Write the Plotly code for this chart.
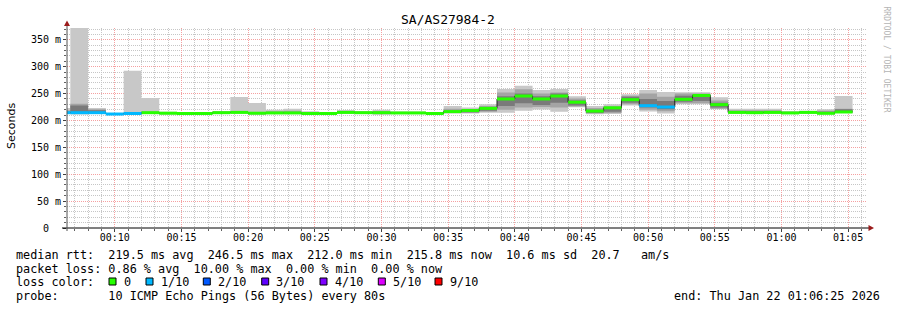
import plotly.graph_objects as go
from datetime import datetime, timedelta

# ---------------- data ----------------
TITLE = "SA/AS27984-2"
FIRST_STEP = datetime(2026, 1, 22, 0, 5, 20)
STEP_SECONDS = 80
X_START = datetime(2026, 1, 22, 0, 6, 25)
X_END = datetime(2026, 1, 22, 1, 6, 25)

median_ms = [214.5, 214.5, 214.5, 212.0, 213.0, 214.5, 213.5, 213.0, 213.0, 214.5,
             215.0, 213.5, 214.0, 214.0, 213.0, 213.0, 215.0, 214.5, 214.5, 214.0,
             214.0, 213.0, 216.5, 218.5, 222.5, 240.0, 245.5, 240.0, 245.5, 234.0,
             217.5, 223.5, 238.7, 227.5, 225.0, 239.4, 246.5, 229.4, 215.0, 214.5,
             215.0, 214.0, 215.0, 213.3, 215.8]
loss_tenths = [1, 1, 1, 1, 1, 0, 0, 0, 0, 0,
               0, 0, 0, 0, 0, 0, 0, 0, 0, 0,
               0, 0, 0, 0, 0, 0, 0, 0, 0, 0,
               0, 0, 0, 1, 1, 0, 0, 0, 0, 0,
               0, 0, 0, 0, 0]
smoke_min = [212.0, 211.0, 212.0, 211.0, 212.0, 212.0, 211.0, 212.0, 212.0, 213.0,
             213.0, 211.5, 212.0, 212.0, 211.5, 211.5, 213.0, 213.0, 211.5, 212.0,
             212.0, 211.5, 213.0, 213.0, 214.5, 214.5, 218.0, 220.6, 216.0, 224.5,
             211.5, 212.0, 228.0, 216.5, 213.0, 230.0, 230.0, 220.7, 213.0, 213.0,
             213.0, 212.5, 213.0, 212.0, 214.0]
smoke_max = [223.0, 372.0, 223.0, 213.5, 292.5, 242.0, 216.0, 215.0, 215.0, 217.5,
             243.5, 232.5, 220.0, 222.0, 217.0, 215.0, 219.5, 217.0, 220.0, 216.5,
             216.5, 214.5, 227.0, 224.0, 230.0, 258.5, 264.7, 256.7, 258.5, 245.0,
             227.0, 230.0, 248.6, 256.7, 253.0, 252.4, 252.4, 243.0, 222.0, 222.0,
             222.0, 217.0, 218.0, 220.7, 245.5]
band2_lo = [213.0, 212.5, 213.0, 211.5, 212.5, 213.0, 212.0, 212.5, 212.5, 213.5,
            214.0, 212.0, 213.0, 213.0, 212.0, 212.0, 213.5, 213.5, 212.0, 213.0,
            213.0, 212.0, 214.0, 214.0, 216.0, 220.0, 224.0, 225.0, 224.0, 226.0,
            213.0, 214.0, 230.0, 220.0, 217.0, 232.0, 232.0, 222.0, 213.5, 213.5,
            213.5, 213.0, 213.5, 212.5, 215.0]
band2_hi = [219.0, 231.0, 221.0, 213.0, 215.0, 216.0, 215.0, 214.0, 214.0, 216.5,
            217.0, 215.0, 217.0, 218.0, 215.0, 214.0, 217.0, 216.0, 217.0, 215.5,
            215.5, 214.0, 222.0, 221.0, 227.0, 252.0, 258.0, 250.0, 252.0, 241.0,
            223.0, 227.0, 246.0, 250.0, 244.0, 250.0, 250.0, 237.0, 219.0, 219.0,
            219.0, 216.0, 217.0, 218.0, 222.0]
band3_lo = [214.0, 215.0, 214.0, 212.0, 212.8, 213.5, 213.0, 212.8, 212.8, 214.0,
            214.5, 211.8, 213.5, 213.5, 212.5, 212.5, 214.0, 214.0, 211.8, 213.5,
            213.5, 212.5, 215.0, 215.5, 218.0, 227.0, 232.0, 229.0, 233.0, 228.0,
            214.0, 216.0, 233.0, 224.0, 221.0, 235.0, 236.0, 224.0, 214.0, 214.0,
            214.0, 213.5, 214.0, 213.0, 216.0]
band3_hi = [216.0, 228.0, 219.0, 212.5, 214.0, 215.0, 214.0, 213.5, 213.5, 215.5,
            216.0, 214.5, 215.0, 215.5, 214.0, 213.5, 216.0, 215.5, 215.5, 214.5,
            214.5, 213.5, 218.0, 220.0, 225.0, 245.0, 250.0, 245.0, 250.0, 237.0,
            220.0, 225.0, 244.0, 240.0, 236.0, 246.0, 249.0, 233.0, 217.0, 217.0,
            217.0, 215.0, 216.0, 216.0, 220.7]

y_tick_values = [0, 50, 100, 150, 200, 250, 300, 350]
y_tick_labels = ["0\u00a0\u00a0", "50 m", "100 m", "150 m", "200 m", "250 m", "300 m", "350 m"]

loss_colors = {0: "#26ff00", 1: "#00b8ff", 2: "#0059ff", 3: "#5e00ff",
               4: "#7e00ff", 5: "#dd00ff", 9: "#ff0000"}
loss_labels = ["0", "1/10", "2/10", "3/10", "4/10", "5/10", "9/10"]
loss_keys = [0, 1, 2, 3, 4, 5, 9]

stats_line1 = "median rtt:  219.5 ms avg  246.5 ms max  212.0 ms min  215.8 ms now  10.6 ms sd  20.7   am/s"
stats_line2 = "packet loss: 0.86 % avg  10.00 % max  0.00 % min  0.00 % now"
probe_line = "probe:       10 ICMP Echo Pings (56 Bytes) every 80s"
end_line = "end: Thu Jan 22 01:06:25 2026"
watermark = "RRDTOOL / TOBI OETIKER"

# ---------------- layout helpers ----------------
W, H = 897, 310
PL, PR, PT, PB = 67, 867, 28, 228
Y_MAX = 372.0


def px(x):
    return (x - PL) / (PR - PL)


def py(y):
    return (PB - y) / (PB - PT)


def nb(s):
    return s.replace(" ", "\u00a0")


MONO = "DejaVu Sans Mono"
n = len(median_ms)
edges = [FIRST_STEP + timedelta(seconds=STEP_SECONDS * i) for i in range(n + 1)]


def stepy(vals):
    return list(vals) + [vals[-1]]


fig = go.Figure()

smoke_bands = [(smoke_min, smoke_max, "#c8c8c8"),
               (band2_lo, band2_hi, "#a4a4a4"),
               (band3_lo, band3_hi, "#7a7a7a")]
for lo, hi, col in smoke_bands:
    fig.add_trace(go.Scatter(x=edges, y=stepy(lo), mode="lines", line=dict(width=0, shape="hv"),
                             hoverinfo="skip", showlegend=False))
    fig.add_trace(go.Scatter(x=edges, y=stepy(hi), mode="lines", line=dict(width=0, shape="hv"),
                             fill="tonexty", fillcolor=col, hoverinfo="skip", showlegend=False))

# black median step line
fig.add_trace(go.Scatter(x=edges, y=stepy(median_ms), mode="lines",
                         line=dict(width=1, shape="hv", color="#202020"),
                         hoverinfo="skip", showlegend=False))

# coloured median bands per loss level
for key in sorted(set(loss_tenths)):
    xs, ys = [], []
    for k in range(n):
        if loss_tenths[k] == key:
            xs += [edges[k], edges[k + 1], None]
            ys += [median_ms[k], median_ms[k], None]
    fig.add_trace(go.Scatter(x=xs, y=ys, mode="lines",
                             line=dict(width=3, color=loss_colors[key]),
                             hoverinfo="skip", showlegend=False))

GRID_MINOR = "#c6c6c6"
GRID_MAJOR = "#f5a0a0"

fig.update_layout(
    width=W, height=H, autosize=False,
    margin=dict(l=PL, r=W - PR, t=PT, b=H - PB, pad=0),
    paper_bgcolor="white", plot_bgcolor="white",
    showlegend=False,
    xaxis=dict(type="date", range=[X_START, X_END], tick0="2026-01-22 00:00:00", dtick=300000,
               tickformat="%H:%M", showgrid=True, gridcolor=GRID_MAJOR, griddash="1px,1px",
               gridwidth=1, zeroline=False, showline=False, ticks="outside", ticklen=3,
               tickcolor="#404040", tickfont=dict(family=MONO, size=10, color="#000000"),
               ticklabelstandoff=-3,
               automargin=False, fixedrange=True,
               minor=dict(tick0="2026-01-22 00:00:00", dtick=60000, showgrid=True,
                          gridcolor=GRID_MINOR, griddash="1px,1px",
                          gridwidth=1, ticks="outside", ticklen=2, tickcolor="#606060")),
    yaxis=dict(range=[0, Y_MAX], tickvals=y_tick_values, ticktext=y_tick_labels,
               showgrid=True, gridcolor=GRID_MAJOR, griddash="1px,1px", gridwidth=1,
               zeroline=False, showline=False, ticks="outside", ticklen=3, tickcolor="#404040",
               tickfont=dict(family=MONO, size=10, color="#000000"), automargin=False,
               fixedrange=True,
               minor=dict(tick0=0, dtick=10, showgrid=True, gridcolor=GRID_MINOR,
                          griddash="1px,1px",
                          gridwidth=1, ticks="outside", ticklen=2, tickcolor="#606060")),
)

shapes = []
# axis lines
shapes.append(dict(type="line", xref="paper", yref="paper", x0=px(62), x1=px(869),
                   y0=py(PB), y1=py(PB), line=dict(color="#000000", width=1), layer="above"))
shapes.append(dict(type="line", xref="paper", yref="paper", x0=px(PL), x1=px(PL),
                   y0=py(PB + 3), y1=py(24), line=dict(color="#505050", width=1), layer="above"))
# arrows
ARROW = "#9b1b1b"
shapes.append(dict(type="path", xref="paper", yref="paper", fillcolor=ARROW, line=dict(width=0),
                   path=f"M {px(64)} {py(26)} L {px(70)} {py(26)} L {px(67)} {py(20.5)} Z",
                   layer="above"))
shapes.append(dict(type="path", xref="paper", yref="paper", fillcolor=ARROW, line=dict(width=0),
                   path=f"M {px(868.5)} {py(225)} L {px(868.5)} {py(231)} L {px(874)} {py(228)} Z",
                   layer="above"))

annotations = []


def text(x, y, s, size=11.8, family=MONO, color="#000000", xanchor="left", angle=0):
    annotations.append(dict(x=px(x), y=py(y), xref="paper", yref="paper", text=nb(s),
                            showarrow=False, xanchor=xanchor, yanchor="middle",
                            font=dict(family=family, size=size, color=color),
                            borderpad=0, borderwidth=0, textangle=angle))


text(448, 19, TITLE, size=13, xanchor="center")
text(11, 126, "Seconds", size=11, family="DejaVu Sans", xanchor="center", angle=-90)
text(886.5, 59, watermark, size=8, color="#b4b4b4", xanchor="center", angle=90)

LINE_Y = [255, 268.5, 282, 296]
text(16, LINE_Y[0], stats_line1)
text(16, LINE_Y[1], stats_line2)
text(16, LINE_Y[2], "loss color:")
text(16, LINE_Y[3], probe_line)
text(880, LINE_Y[3], end_line, xanchor="right")

sq_x = [109, 146, 203.3, 261.7, 320, 378.3, 435]
for i, key in enumerate(loss_keys):
    x0 = sq_x[i]
    shapes.append(dict(type="rect", xref="paper", yref="paper",
                       x0=px(x0), x1=px(x0 + 7), y0=py(278), y1=py(285),
                       fillcolor=loss_colors[key], line=dict(color="#000000", width=1),
                       layer="above"))
    text(x0 + 14.5, LINE_Y[2], loss_labels[i])

fig.update_layout(shapes=shapes, annotations=annotations)
fig.write_html("out.html")
